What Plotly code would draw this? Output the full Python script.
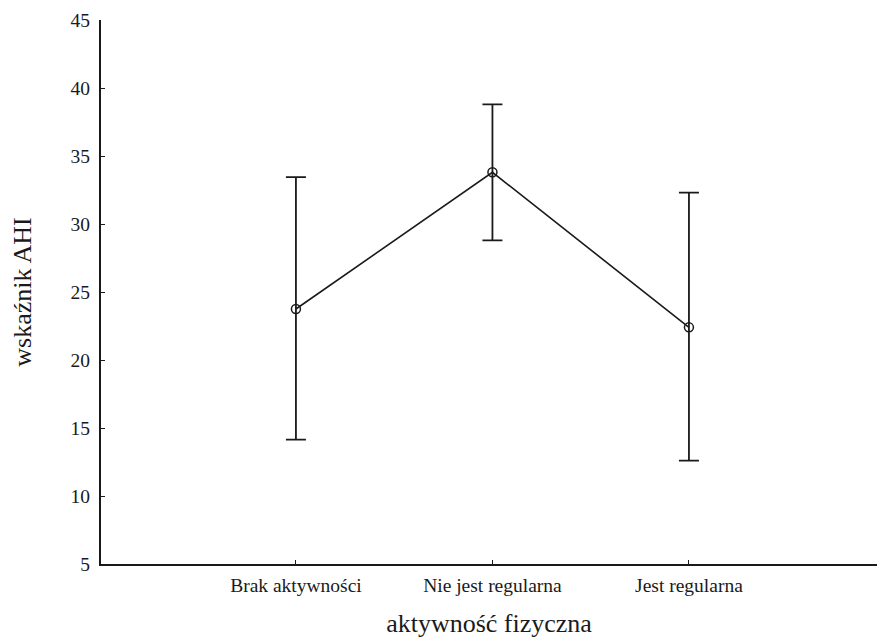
import plotly.graph_objects as go

categories = ["Brak aktywności", "Nie jest regularna", "Jest regularna"]
means = [23.75, 33.8, 22.4]
upper = [33.45, 38.8, 32.3]
lower = [14.15, 28.8, 12.6]
y_ticks = [5, 10, 15, 20, 25, 30, 35, 40, 45]

xpos = list(range(len(categories)))
err_plus = [u - m for u, m in zip(upper, means)]
err_minus = [m - l for m, l in zip(means, lower)]

fig = go.Figure()
fig.add_trace(go.Scatter(
    x=xpos, y=means, mode="lines+markers",
    line=dict(color="#1a1a1a", width=1.6),
    marker=dict(symbol="circle-open", size=9, color="#1a1a1a", line=dict(width=1.5)),
    error_y=dict(type="data", symmetric=False, array=err_plus, arrayminus=err_minus,
                 color="#1a1a1a", thickness=1.8, width=10),
    showlegend=False,
))

font = "Liberation Serif, Times New Roman, serif"
fig.update_layout(
    width=877, height=639,
    margin=dict(l=101, r=0, t=20, b=75, autoexpand=False),
    paper_bgcolor="white", plot_bgcolor="white",
    font=dict(family=font, color="#1a1a1a"),
    xaxis=dict(
        range=[-0.992, 2.957], tickvals=xpos, ticktext=categories,
        showline=True, linecolor="#1a1a1a", linewidth=2,
        ticks="inside", ticklen=4, tickwidth=1.2, tickcolor="#1a1a1a",
        showgrid=False, zeroline=False, ticklabelstandoff=3,
        tickfont=dict(size=19.5, family=font, color="#1a1a1a"),
        title=dict(text="aktywność fizyczna", font=dict(size=26, family=font, color="#1a1a1a"), standoff=18),
    ),
    yaxis=dict(
        range=[5, 45], tickvals=y_ticks,
        showline=True, linecolor="#1a1a1a", linewidth=2,
        ticks="inside", ticklen=4, tickwidth=1.2, tickcolor="#1a1a1a",
        showgrid=False, zeroline=False, ticklabelstandoff=5,
        tickfont=dict(size=19.5, family=font, color="#1a1a1a"),
        title=dict(text="wskaźnik AHI", font=dict(size=26, family=font, color="#1a1a1a"), standoff=31),
    ),
)

fig.write_html("out.html", config={"displayModeBar": False},
               post_script="document.body.style.margin='0';document.body.style.overflow='hidden';")
